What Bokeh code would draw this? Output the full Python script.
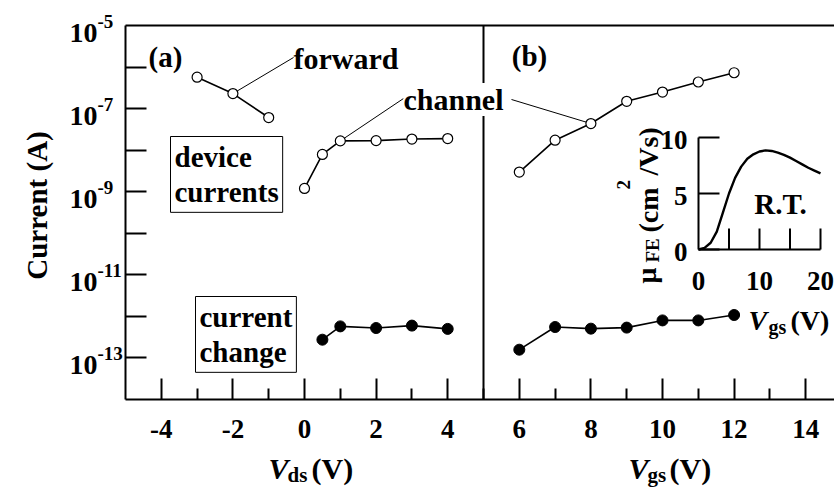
import math
from bokeh.plotting import figure
from bokeh.models import (Range1d, LinearScale, FixedTicker, Label,
                          CustomJSTickFormatter)
from bokeh.embed import file_html
from bokeh.resources import INLINE

# ---------------- data ----------------
vds_forward = [-3, -2, -1]
i_forward = [5.7e-7, 2.3e-7, 6.1e-8]

vds_channel = [0, 0.5, 1, 2, 3, 4]
i_channel_a = [1.2e-9, 7.9e-9, 1.67e-8, 1.7e-8, 1.85e-8, 1.9e-8]

vds_change = [0.5, 1, 2, 3, 4]
i_change_a = [2.75e-13, 5.75e-13, 5.25e-13, 6.0e-13, 5.0e-13]

vgs = [6, 7, 8, 9, 10, 11, 12]
i_channel_b = [2.97e-9, 1.74e-8, 4.37e-8, 1.5e-7, 2.5e-7, 4.37e-7, 7.3e-7]
i_change_b = [1.58e-13, 5.55e-13, 5.07e-13, 5.37e-13, 8.0e-13, 8.0e-13, 1.08e-12]

inset_vgs = [0, 1, 2, 3, 4, 5, 6, 7, 8, 9, 10, 11, 12, 13, 14, 15, 16, 17, 18, 19, 20]
inset_mu = [0.0, 0.15, 0.6, 1.6, 3.3, 5.0, 6.4, 7.4, 8.1, 8.5, 8.75, 8.85, 8.8,
            8.65, 8.45, 8.2, 7.9, 7.6, 7.3, 7.05, 6.8]

x_ticks = [-4, -2, 0, 2, 4, 6, 8, 10, 12, 14]
x_tick_labels = ["-4", "-2", "0", "2", "4", "6", "8", "10", "12", "14"]
x_minor_ticks = [-3, -1, 1, 3, 5, 7, 9, 11, 13]

y_ticks = [1e-13, 1e-12, 1e-11, 1e-10, 1e-9, 1e-8, 1e-7, 1e-6]
y_label_values = [1e-5, 1e-7, 1e-9, 1e-11, 1e-13]
y_label_exps = ["-5", "-7", "-9", "-11", "-13"]

inset_y_ticks = [0, 5, 10]
inset_y_tick_labels = ["0", "5", "10"]
inset_x_ticks = [5, 10, 15, 20]
inset_x_label_values = [0, 10, 20]
inset_x_tick_labels = ["0", "10", "20"]

# ---------------- layout constants (page pixels) ----------------
W, H = 834, 488
AX_L, AX_T, AX_B = 125, 25, 399           # main axes box
AX_XMIN = -5
AX_YMIN, AX_YMAX = 1e-14, 1e-5
PX_PER_X = 35.8
PX_PER_DEC = (AX_B - AX_T) / 9.0

# data ranges that cover the whole canvas (frame == canvas)
X_START = AX_XMIN - AX_L / PX_PER_X
X_END = AX_XMIN + (W - AX_L) / PX_PER_X
Y_END = 10 ** (math.log10(AX_YMAX) + AX_T / PX_PER_DEC)
Y_START = 10 ** (math.log10(AX_YMAX) - (H - AX_T) / PX_PER_DEC)

# inset placement
IN_X0_PX, IN_X_PER = 698, 6.1
IN_Y0_PX, IN_Y_PER = 249, 11.2

FONT = "Liberation Serif"


def px_to_x(px):
    return AX_XMIN + (px - AX_L) / PX_PER_X


def py_to_y(py):
    return 10 ** (math.log10(AX_YMAX) - (py - AX_T) / PX_PER_DEC)


p = figure(width=W, height=H, title=None,
           x_range=Range1d(X_START, X_END), y_range=Range1d(Y_START, Y_END),
           y_axis_type="log", output_backend="svg", toolbar_location=None,
           min_border_left=0, min_border_right=0, min_border_top=0, min_border_bottom=0)
p.outline_line_color = None
p.grid.visible = False
p.background_fill_color = "white"
p.border_fill_color = "white"

p.extra_x_ranges = {
    "px": Range1d(0, W),
    "ix": Range1d(-IN_X0_PX / IN_X_PER, (W - IN_X0_PX) / IN_X_PER),
}
p.extra_y_ranges = {
    "px": Range1d(H, 0),
    "iy": Range1d(-(H - IN_Y0_PX) / IN_Y_PER, IN_Y0_PX / IN_Y_PER),
}
p.extra_x_scales = {"px": LinearScale(), "ix": LinearScale()}
p.extra_y_scales = {"px": LinearScale(), "iy": LinearScale()}

# ---- axes (drawn at fixed locations inside the canvas) ----
xa = p.xaxis[0]
xa.fixed_location = AX_YMIN
xa.bounds = (AX_XMIN, X_END)
xa.ticker = FixedTicker(ticks=x_ticks, minor_ticks=x_minor_ticks)
xa.major_label_overrides = {t: s for t, s in zip(x_ticks, x_tick_labels)}
xa.major_tick_in = 21
xa.major_tick_out = 0
xa.minor_tick_in = 11
xa.minor_tick_out = 0
xa.axis_line_width = 2
xa.major_tick_line_width = 2
xa.minor_tick_line_width = 2
xa.major_label_text_font = FONT
xa.major_label_text_font_style = "bold"
xa.major_label_text_font_size = "27px"
xa.major_label_text_color = "black"
xa.major_label_standoff = 20

ya = p.yaxis[0]
ya.fixed_location = AX_XMIN
ya.bounds = (AX_YMIN, AX_YMAX)
ya.ticker = FixedTicker(ticks=y_ticks, minor_ticks=[])
ya.formatter = CustomJSTickFormatter(code="return ''")
ya.major_tick_in = 21
ya.major_tick_out = 0
ya.axis_line_width = 2
ya.major_tick_line_width = 2
ya.minor_tick_line_color = None

# top frame line and panel divider
p.segment(x0=[AX_XMIN, 5], y0=[AX_YMAX, AX_YMIN], x1=[X_END, 5], y1=[AX_YMAX, AX_YMAX],
          line_color="black", line_width=2)


def lab(text, x, y, size="29px", align="left", baseline="middle", style="bold",
        xr="px", yr="px", angle=0.0, xo=0, yo=0, **kw):
    l = Label(x=x, y=y, text=text, text_font=FONT, text_font_size=size,
              text_font_style=style, text_align=align, text_baseline=baseline,
              text_color="black", x_range_name=xr, y_range_name=yr, angle=angle,
              x_offset=xo, y_offset=yo, **kw)
    p.add_layout(l)
    return l


# ---- leader lines ----
p.segment(x0=[vds_forward[1], vds_channel[2], px_to_x(511)],
          y0=[i_forward[1], i_channel_a[2], py_to_y(99)],
          x1=[px_to_x(293), px_to_x(403), vgs[2]],
          y1=[py_to_y(57), py_to_y(98), i_channel_b[2]],
          line_color="black", line_width=1)

# ---- series ----
for xs, ys in [(vds_forward, i_forward), (vds_channel, i_channel_a), (vgs, i_channel_b)]:
    p.line(xs, ys, line_color="black", line_width=1.6)
    p.scatter(xs, ys, marker="circle", size=10, fill_color="white",
              line_color="black", line_width=1.2)
for xs, ys in [(vds_change, i_change_a), (vgs, i_change_b)]:
    p.line(xs, ys, line_color="black", line_width=1.6)
    p.scatter(xs, ys, marker="circle", size=11, fill_color="black",
              line_color="black", line_width=1)

# ---- inset ----
p.line(inset_vgs, inset_mu, x_range_name="ix", y_range_name="iy",
       line_color="black", line_width=2.4)
p.segment(x0=[0, 0], y0=[0, 0], x1=[inset_x_ticks[-1], 0], y1=[0, inset_y_ticks[-1]],
          x_range_name="ix", y_range_name="iy", line_color="black", line_width=2)
tick_len_px = 21
p.segment(x0=[0] * len(inset_y_ticks), y0=inset_y_ticks,
          x1=[tick_len_px / IN_X_PER] * len(inset_y_ticks), y1=inset_y_ticks,
          x_range_name="ix", y_range_name="iy", line_color="black", line_width=2)
p.segment(x0=inset_x_ticks, y0=[0] * len(inset_x_ticks),
          x1=inset_x_ticks, y1=[tick_len_px / IN_Y_PER] * len(inset_x_ticks),
          x_range_name="ix", y_range_name="iy", line_color="black", line_width=2)
for v, s in zip(inset_y_ticks, inset_y_tick_labels):
    lab(s, 0, v, size="27px", align="right", xr="ix", yr="iy", xo=-11, yo=-2)
for v, s in zip(inset_x_label_values, inset_x_tick_labels):
    lab(s, v, 0, size="27px", align="center", xr="ix", yr="iy", yo=-31)

# inset x label  V_gs (V)
lab("V", 748, 320, size="28px", baseline="alphabetic", style="bold italic")
lab("gs", 768, 326, size="20px", baseline="alphabetic")
lab("(V)", 790, 320, size="28px", baseline="alphabetic")
# inset y label  mu_FE (cm^2/Vs)
ang = math.pi / 2
lab("\u03bc", 646, 283, size="28px", baseline="alphabetic", angle=ang)
lab("FE", 652, 262, size="19px", baseline="alphabetic", angle=ang)
lab("(cm", 648, 232, size="28px", baseline="alphabetic", angle=ang)
lab("2", 623, 189, size="19px", baseline="alphabetic", angle=ang)
lab("/Vs)", 648, 175, size="28px", baseline="alphabetic", angle=ang)
lab("R.T.", 780, 203, size="29px", align="center")

# ---- main y tick labels 10^n ----
for v, e in zip(y_label_values, y_label_exps):
    lab("10", 97, v, size="28px", align="right", yr="default", yo=-7)
    lab(e, 97, v, size="19px", align="left", yr="default", yo=4)

# ---- axis titles ----
lab("Current (A)", 36, 205, size="29px", align="center", baseline="alphabetic", angle=ang)
lab("V", 268, 468, size="30px", baseline="alphabetic", style="bold italic")
lab("ds", 287, 474, size="21px", baseline="alphabetic")
lab("(V)", 311, 468, size="30px", baseline="alphabetic")
lab("V", 628, 468, size="30px", baseline="alphabetic", style="bold italic")
lab("gs", 647, 474, size="21px", baseline="alphabetic")
lab("(V)", 669, 468, size="30px", baseline="alphabetic")

# ---- in-plot annotations ----
lab("(a)", 165, 56, align="center")
lab("(b)", 529, 55, align="center")
lab("forward", 293, 58, size="30px")
lab("channel", 403, 99, size="30px", background_fill_color="white")
lab("device\ncurrents", 170, 136, baseline="top", border_line_color="black",
    border_line_width=1, background_fill_color="white", padding=4,
    text_line_height=1.12)
lab("current\nchange", 195, 296, baseline="top", border_line_color="black",
    border_line_width=1, background_fill_color="white", padding=4,
    text_line_height=1.12)

open("out.html", "w").write(file_html(p, INLINE))
